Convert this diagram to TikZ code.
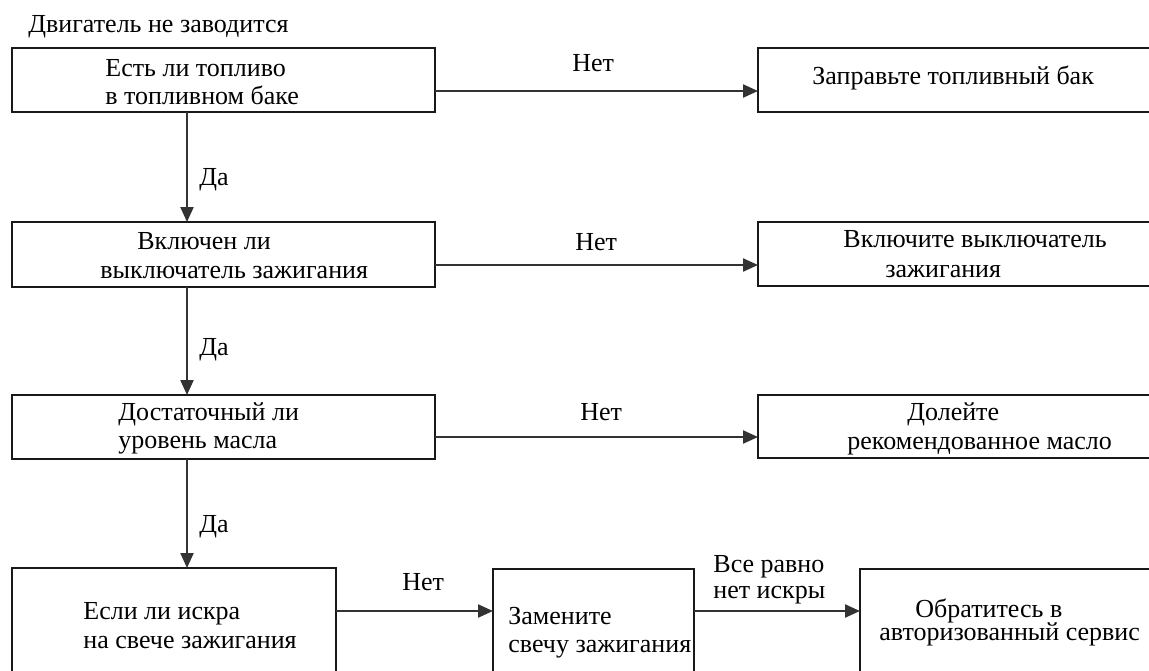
\documentclass[tikz,border=0pt]{standalone}
\usepackage{fontspec}
\setmainfont{Liberation Serif}
\usetikzlibrary{arrows.meta}
\tikzset{
  box/.style={draw=black!90, line width=1pt, rectangle, inner sep=0pt, outer sep=0pt},
  arr/.style={draw=black!80, line width=1.1pt, -{Triangle[length=7.5pt,width=6.5pt]}},
  txt/.style={anchor=base west, inner sep=0pt, font=\fontsize{13}{15}\selectfont},
}
\begin{document}
\begin{tikzpicture}[x=0.5pt,y=-0.5pt]
\useasboundingbox (0,0) rectangle (1149,670);
\clip (0,0) rectangle (1149,670);
% helper coordinates
\coordinate (cx) at (187,0);
\coordinate (y1) at (0,91);
\coordinate (y2) at (0,265);
\coordinate (y3) at (0,437);
\coordinate (y4) at (0,611);
% boxes
\node[box, minimum width=211.5pt, minimum height=32pt] (b1) at (223.5,80) {};
\node[box, minimum width=211.5pt, minimum height=32.5pt] (b2) at (223.5,254.5) {};
\node[box, minimum width=211.5pt, minimum height=32pt] (b3) at (223.5,427) {};
\node[box, minimum width=162pt, minimum height=75pt] (b4) at (174,643) {};
\node[box, minimum width=100.5pt, minimum height=75pt] (b5) at (593.5,644) {};
\node[box, minimum width=155pt, minimum height=75pt] (b6) at (1015,644) {};
\node[box, minimum width=206pt, minimum height=32pt] (r1) at (964,80) {};
\node[box, minimum width=206pt, minimum height=32pt] (r2) at (964,254) {};
\node[box, minimum width=206pt, minimum height=31.5pt] (r3) at (964,426.5) {};
% texts
\node[txt] (title) at (28,32) {Двигатель не заводится};
\node[txt] (t1a) at (105,76) {Есть ли топливо};
\node[txt] (t1b) at (105,104) {в топливном баке};
\node[txt] (t2a) at (137,249) {Включен ли};
\node[txt] (t2b) at (100,278) {выключатель зажигания};
\node[txt] (t3a) at (118,420) {Достаточный ли};
\node[txt] (t3b) at (118,448) {уровень масла};
\node[txt] (t4a) at (83,619) {Если ли искра};
\node[txt] (t4b) at (83,648) {на свече зажигания};
\node[txt] (t5a) at (508,624) {Замените};
\node[txt] (t5b) at (508,652) {свечу зажигания};
\node[txt] (t6a) at (915,617) {Обратитесь в};
\node[txt] (t6b) at (879,640) {авторизованный сервис};
\node[txt] (tr1) at (812,84) {Заправьте топливный бак};
\node[txt] (tr2a) at (843,247) {Включите выключатель};
\node[txt] (tr2b) at (885,277) {зажигания};
\node[txt] (tr3a) at (907,420) {Долейте};
\node[txt] (tr3b) at (847,449) {рекомендованное масло};
% labels
\node[txt] (n1) at (572,71) {Нет};
\node[txt] (n2) at (575,250) {Нет};
\node[txt] (n3) at (580,420) {Нет};
\node[txt] (n4) at (402,590) {Нет};
\node[txt] (d1) at (199,185) {Да};
\node[txt] (d2) at (199,355) {Да};
\node[txt] (d3) at (199,532) {Да};
\node[txt] (v1) at (713,572) {Все равно};
\node[txt] (v2) at (713,598) {нет искры};
% connectors
\draw[arr] (b1.south -| cx) -- (b2.north -| cx);
\draw[arr] (b2.south -| cx) -- (b3.north -| cx);
\draw[arr] (b3.south -| cx) -- (b4.north -| cx);
\draw[arr] (b1.east |- y1) -- (r1.west |- y1);
\draw[arr] (b2.east |- y2) -- (r2.west |- y2);
\draw[arr] (b3.east |- y3) -- (r3.west |- y3);
\draw[arr] (b4.east |- y4) -- (b5.west |- y4);
\draw[arr] (b5.east |- y4) -- (b6.west |- y4);
\end{tikzpicture}
\end{document}
